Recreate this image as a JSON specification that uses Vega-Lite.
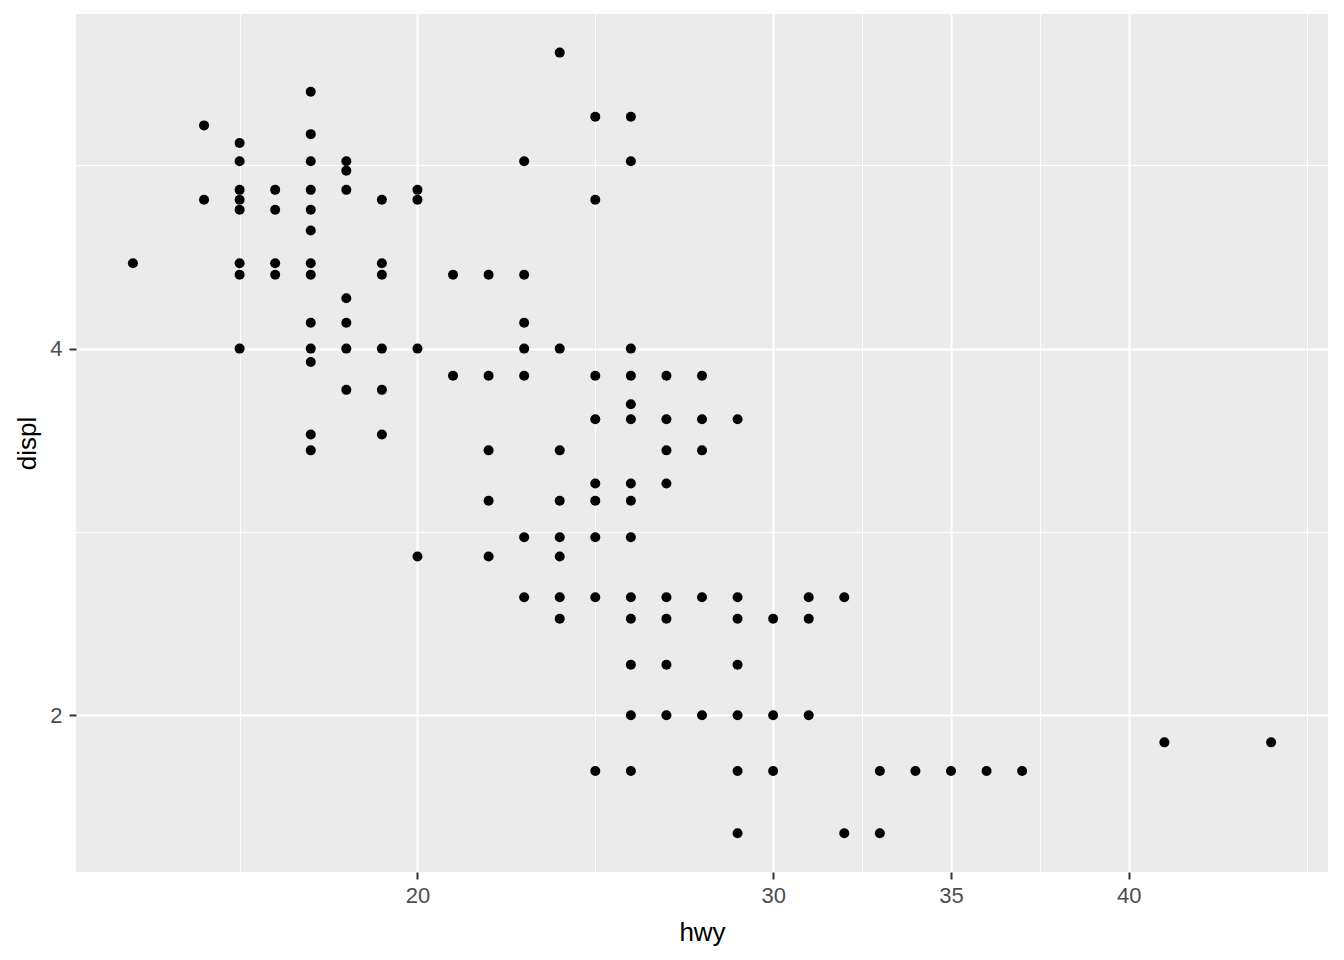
{
  "$schema": "https://vega.github.io/schema/vega-lite/v6.json",
  "autosize": "none",
  "width": 1252,
  "height": 858,
  "padding": {"left": 76, "top": 14, "right": 16, "bottom": 88},
  "background": "white",
  "config": {
    "view": {"fill": "#EBEBEB", "stroke": null},
    "font": "Liberation Sans"
  },
  "data": {
    "values": [
      {"hwy": 12, "displ": 4.7},
      {"hwy": 14, "displ": 6.1}, {"hwy": 14, "displ": 5.3},
      {"hwy": 15, "displ": 5.9}, {"hwy": 15, "displ": 5.7}, {"hwy": 15, "displ": 5.4}, {"hwy": 15, "displ": 5.3}, {"hwy": 15, "displ": 5.2}, {"hwy": 15, "displ": 4.7}, {"hwy": 15, "displ": 4.6}, {"hwy": 15, "displ": 4.0},
      {"hwy": 16, "displ": 5.4}, {"hwy": 16, "displ": 5.2}, {"hwy": 16, "displ": 4.7}, {"hwy": 16, "displ": 4.6},
      {"hwy": 17, "displ": 6.5}, {"hwy": 17, "displ": 6.0}, {"hwy": 17, "displ": 5.7}, {"hwy": 17, "displ": 5.4}, {"hwy": 17, "displ": 5.2}, {"hwy": 17, "displ": 5.0}, {"hwy": 17, "displ": 4.7}, {"hwy": 17, "displ": 4.6}, {"hwy": 17, "displ": 4.2}, {"hwy": 17, "displ": 4.0}, {"hwy": 17, "displ": 3.9}, {"hwy": 17, "displ": 3.4}, {"hwy": 17, "displ": 3.3},
      {"hwy": 18, "displ": 5.7}, {"hwy": 18, "displ": 5.6}, {"hwy": 18, "displ": 5.4}, {"hwy": 18, "displ": 4.4}, {"hwy": 18, "displ": 4.2}, {"hwy": 18, "displ": 4.0}, {"hwy": 18, "displ": 3.7},
      {"hwy": 19, "displ": 5.3}, {"hwy": 19, "displ": 4.7}, {"hwy": 19, "displ": 4.6}, {"hwy": 19, "displ": 4.0}, {"hwy": 19, "displ": 3.7}, {"hwy": 19, "displ": 3.4},
      {"hwy": 20, "displ": 5.4}, {"hwy": 20, "displ": 5.3}, {"hwy": 20, "displ": 4.0}, {"hwy": 20, "displ": 2.7},
      {"hwy": 21, "displ": 4.6}, {"hwy": 21, "displ": 3.8},
      {"hwy": 22, "displ": 4.6}, {"hwy": 22, "displ": 3.8}, {"hwy": 22, "displ": 3.3}, {"hwy": 22, "displ": 3.0}, {"hwy": 22, "displ": 2.7},
      {"hwy": 23, "displ": 5.7}, {"hwy": 23, "displ": 4.6}, {"hwy": 23, "displ": 4.2}, {"hwy": 23, "displ": 4.0}, {"hwy": 23, "displ": 3.8}, {"hwy": 23, "displ": 2.8}, {"hwy": 23, "displ": 2.5},
      {"hwy": 24, "displ": 7.0}, {"hwy": 24, "displ": 4.0}, {"hwy": 24, "displ": 3.3}, {"hwy": 24, "displ": 3.0}, {"hwy": 24, "displ": 2.8}, {"hwy": 24, "displ": 2.7}, {"hwy": 24, "displ": 2.5}, {"hwy": 24, "displ": 2.4},
      {"hwy": 25, "displ": 6.2}, {"hwy": 25, "displ": 5.3}, {"hwy": 25, "displ": 3.8}, {"hwy": 25, "displ": 3.5}, {"hwy": 25, "displ": 3.1}, {"hwy": 25, "displ": 3.0}, {"hwy": 25, "displ": 2.8}, {"hwy": 25, "displ": 2.5}, {"hwy": 25, "displ": 1.8},
      {"hwy": 26, "displ": 6.2}, {"hwy": 26, "displ": 5.7}, {"hwy": 26, "displ": 4.0}, {"hwy": 26, "displ": 3.8}, {"hwy": 26, "displ": 3.6}, {"hwy": 26, "displ": 3.5}, {"hwy": 26, "displ": 3.1}, {"hwy": 26, "displ": 3.0}, {"hwy": 26, "displ": 2.8}, {"hwy": 26, "displ": 2.5}, {"hwy": 26, "displ": 2.4}, {"hwy": 26, "displ": 2.2}, {"hwy": 26, "displ": 2.0}, {"hwy": 26, "displ": 1.8},
      {"hwy": 27, "displ": 3.8}, {"hwy": 27, "displ": 3.5}, {"hwy": 27, "displ": 3.3}, {"hwy": 27, "displ": 3.1}, {"hwy": 27, "displ": 2.5}, {"hwy": 27, "displ": 2.4}, {"hwy": 27, "displ": 2.2}, {"hwy": 27, "displ": 2.0},
      {"hwy": 28, "displ": 3.8}, {"hwy": 28, "displ": 3.5}, {"hwy": 28, "displ": 3.3}, {"hwy": 28, "displ": 2.5}, {"hwy": 28, "displ": 2.0},
      {"hwy": 29, "displ": 3.5}, {"hwy": 29, "displ": 2.5}, {"hwy": 29, "displ": 2.4}, {"hwy": 29, "displ": 2.2}, {"hwy": 29, "displ": 2.0}, {"hwy": 29, "displ": 1.8}, {"hwy": 29, "displ": 1.6},
      {"hwy": 30, "displ": 2.4}, {"hwy": 30, "displ": 2.0}, {"hwy": 30, "displ": 1.8},
      {"hwy": 31, "displ": 2.5}, {"hwy": 31, "displ": 2.4}, {"hwy": 31, "displ": 2.0},
      {"hwy": 32, "displ": 2.5}, {"hwy": 32, "displ": 1.6},
      {"hwy": 33, "displ": 1.8}, {"hwy": 33, "displ": 1.6},
      {"hwy": 34, "displ": 1.8},
      {"hwy": 35, "displ": 1.8},
      {"hwy": 36, "displ": 1.8},
      {"hwy": 37, "displ": 1.8},
      {"hwy": 41, "displ": 1.9},
      {"hwy": 44, "displ": 1.9}
    ]
  },
  "mark": {"type": "point", "filled": true, "shape": "circle", "size": 100, "color": "black", "opacity": 1},
  "encoding": {
    "x": {
      "field": "hwy",
      "type": "quantitative",
      "scale": {"domain": [10.4, 45.6], "nice": false, "zero": false},
      "axis": {
        "title": "hwy",
        "values": [15, 20, 25, 30, 32.5, 35, 37.5, 40, 45],
        "labelExpr": "(datum.value == 20 || datum.value == 30 || datum.value == 35 || datum.value == 40) ? datum.label : ''",
        "domain": false,
        "grid": true,
        "gridColor": "white",
        "gridWidth": {"condition": {"test": "datum.value == 20 || datum.value == 30 || datum.value == 35 || datum.value == 40", "value": 2}, "value": 1},
        "tickColor": "#333333",
        "tickWidth": 2,
        "tickSize": 7,
        "tickOpacity": {"condition": {"test": "datum.value == 20 || datum.value == 30 || datum.value == 35 || datum.value == 40", "value": 1}, "value": 0},
        "labelColor": "#4D4D4D",
        "labelFontSize": 22,
        "labelPadding": 6,
        "labelFont": "Liberation Sans",
        "titleFont": "Liberation Sans",
        "titleFontSize": 26,
        "titleFontWeight": "normal",
        "titleColor": "black",
        "titlePadding": 13
      }
    },
    "y": {
      "field": "displ",
      "type": "quantitative",
      "scale": {"type": "log", "domain": [1.487, 7.53], "nice": false, "zero": false},
      "axis": {
        "title": "displ",
        "values": [2, 2.8284, 4, 5.6569],
        "labelExpr": "(datum.value == 2 || datum.value == 4) ? datum.label : ''",
        "domain": false,
        "grid": true,
        "gridColor": "white",
        "gridWidth": {"condition": {"test": "datum.value == 2 || datum.value == 4", "value": 2}, "value": 1},
        "tickColor": "#333333",
        "tickWidth": 2,
        "tickSize": 7,
        "tickOpacity": {"condition": {"test": "datum.value == 2 || datum.value == 4", "value": 1}, "value": 0},
        "labelColor": "#4D4D4D",
        "labelFontSize": 22,
        "labelPadding": 7,
        "labelFont": "Liberation Sans",
        "titleFont": "Liberation Sans",
        "titleFontSize": 26,
        "titleFontWeight": "normal",
        "titleColor": "black",
        "titlePadding": 9
      }
    }
  }
}
